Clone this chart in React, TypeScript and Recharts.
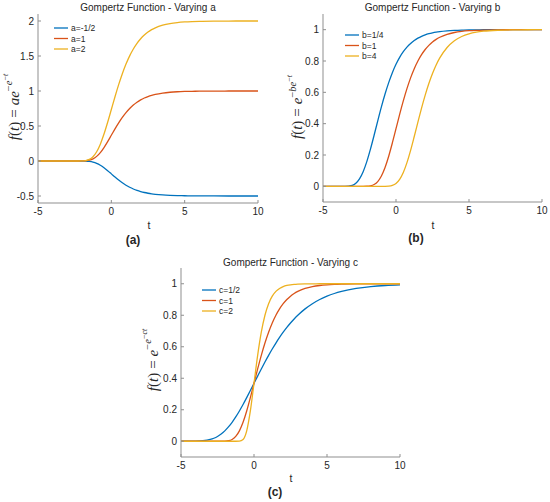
import React from 'react';
import { LineChart, Line, XAxis, YAxis } from 'recharts';

const tValues = [-5, -4.5, -4, -3.5, -3, -2.75, -2.5, -2.25, -2, -1.75, -1.5, -1.25, -1, -0.75, -0.5, -0.25, 0, 0.25, 0.5, 0.75, 1, 1.25, 1.5, 1.75, 2, 2.25, 2.5, 2.75, 3, 3.5, 4, 4.5, 5, 5.5, 6, 7, 8, 9, 10];

// Panel (a): varying a
const aNegHalf = [0, 0, 0, 0, 0, 0, 0, -0.0001, -0.0003, -0.0016, -0.0057, -0.0153, -0.033, -0.0602, -0.0962, -0.1385, -0.184, -0.2295, -0.2726, -0.3118, -0.3461, -0.3755, -0.4, -0.4203, -0.4367, -0.45, -0.4606, -0.4691, -0.4757, -0.4852, -0.491, -0.4945, -0.4967, -0.498, -0.4988, -0.4996, -0.4999, -0.5, -0.5];
const aOne = [0, 0, 0, 0, 0, 0, 0, 0.0001, 0.0006, 0.0032, 0.0113, 0.0305, 0.066, 0.1204, 0.1923, 0.2769, 0.3679, 0.459, 0.5452, 0.6235, 0.6922, 0.7509, 0.8, 0.8405, 0.8734, 0.9, 0.9212, 0.9381, 0.9514, 0.9703, 0.9819, 0.989, 0.9933, 0.9959, 0.9975, 0.9991, 0.9997, 0.9999, 1];
const aTwo = [0, 0, 0, 0, 0, 0, 0, 0.0002, 0.0012, 0.0064, 0.0226, 0.061, 0.132, 0.2408, 0.3846, 0.5538, 0.7358, 0.918, 1.0904, 1.247, 1.3844, 1.5018, 1.6, 1.681, 1.7468, 1.8, 1.8424, 1.8762, 1.9028, 1.9406, 1.9638, 1.978, 1.9866, 1.9918, 1.995, 1.9982, 1.9994, 1.9998, 2];

// Panel (b): varying b
const bQuarter = [0, 0, 0, 0.0003, 0.0066, 0.02, 0.0475, 0.0933, 0.1576, 0.2372, 0.3261, 0.4178, 0.5068, 0.589, 0.6621, 0.7254, 0.7788, 0.8231, 0.8593, 0.8886, 0.9121, 0.9309, 0.9457, 0.9575, 0.9667, 0.974, 0.9797, 0.9842, 0.9877, 0.9925, 0.9954, 0.9972, 0.9983, 0.999, 0.9994, 0.9998, 0.9999, 1, 1];
const bOne = [0, 0, 0, 0, 0, 0, 0, 0.0001, 0.0006, 0.0032, 0.0113, 0.0305, 0.066, 0.1204, 0.1923, 0.2769, 0.3679, 0.459, 0.5452, 0.6235, 0.6922, 0.7509, 0.8, 0.8405, 0.8734, 0.9, 0.9212, 0.9381, 0.9514, 0.9703, 0.9819, 0.989, 0.9933, 0.9959, 0.9975, 0.9991, 0.9997, 0.9999, 1];
const bFour = [0, 0, 0, 0, 0, 0, 0, 0, 0, 0, 0, 0, 0, 0.0002, 0.0014, 0.0059, 0.0183, 0.0444, 0.0884, 0.1512, 0.2296, 0.318, 0.4096, 0.4991, 0.582, 0.6561, 0.7201, 0.7745, 0.8195, 0.8862, 0.9293, 0.9565, 0.9734, 0.9838, 0.9901, 0.9964, 0.9987, 0.9995, 0.9998];

// Panel (c): varying c
const cHalf = [0, 0.0001, 0.0006, 0.0032, 0.0113, 0.0192, 0.0305, 0.046, 0.066, 0.0908, 0.1204, 0.1544, 0.1923, 0.2334, 0.2769, 0.322, 0.3679, 0.4137, 0.459, 0.5029, 0.5452, 0.5855, 0.6235, 0.6591, 0.6922, 0.7228, 0.7509, 0.7766, 0.8, 0.8405, 0.8734, 0.9, 0.9212, 0.9381, 0.9514, 0.9703, 0.9819, 0.989, 0.9933];
const cOne = [0, 0, 0, 0, 0, 0, 0, 0.0001, 0.0006, 0.0032, 0.0113, 0.0305, 0.066, 0.1204, 0.1923, 0.2769, 0.3679, 0.459, 0.5452, 0.6235, 0.6922, 0.7509, 0.8, 0.8405, 0.8734, 0.9, 0.9212, 0.9381, 0.9514, 0.9703, 0.9819, 0.989, 0.9933, 0.9959, 0.9975, 0.9991, 0.9997, 0.9999, 1];
const cTwo = [0, 0, 0, 0, 0, 0, 0, 0, 0, 0, 0, 0, 0.0006, 0.0113, 0.066, 0.1923, 0.3679, 0.5452, 0.6922, 0.8, 0.8734, 0.9212, 0.9514, 0.9703, 0.9819, 0.989, 0.9933, 0.9959, 0.9975, 0.9991, 0.9997, 0.9999, 1, 1, 1, 1, 1, 1, 1];

const xTicks = [-5, 0, 5, 10];
const yTicksA = [-0.5, 0, 0.5, 1, 1.5, 2];
const yTicksBC = [0, 0.2, 0.4, 0.6, 0.8, 1];

const legendA = ['a=-1/2', 'a=1', 'a=2'];
const legendB = ['b=1/4', 'b=1', 'b=4'];
const legendC = ['c=1/2', 'c=1', 'c=2'];

const titles = ['Gompertz Function - Varying a', 'Gompertz Function - Varying b', 'Gompertz Function - Varying c'];
const panelTags = ['(a)', '(b)', '(c)'];

const COLORS = ['#0072BD', '#D95319', '#EDB120'];
const AXIS = '#8f8f8f';
const TXT = '#262626';
const SANS = '"Liberation Sans", Arial, Helvetica, sans-serif';
const SERIF = '"Liberation Serif", "Times New Roman", serif';

function buildRows(s1: number[], s2: number[], s3: number[]) {
  return tValues.map((t, i) => ({ t, s1: s1[i], s2: s2[i], s3: s3[i] }));
}

type PanelProps = {
  left: number; top: number; width: number; height: number;
  margin: { top: number; right: number; bottom: number; left: number };
  rows: any[]; yDomain: [number, number]; yTicks: number[];
};

function Panel({ left, top, width, height, margin, rows, yDomain, yTicks }: PanelProps) {
  const tickStyle = { fill: TXT, fontSize: 10, fontFamily: SANS };
  return (
    <div style={{ position: 'absolute', left, top, width, height }}>
      <LineChart width={width} height={height} data={rows} margin={margin}>
        <XAxis xAxisId="b" dataKey="t" type="number" domain={[-5, 10]} ticks={xTicks} interval={0}
          allowDataOverflow height={30} tickSize={-3} tickMargin={8}
          axisLine={{ stroke: AXIS }} tickLine={{ stroke: AXIS }} tick={tickStyle} />
        <XAxis xAxisId="top" orientation="top" dataKey="t" type="number" domain={[-5, 10]} ticks={xTicks}
          interval={0} allowDataOverflow height={0} tickSize={-3} tick={false}
          axisLine={{ stroke: AXIS }} tickLine={{ stroke: AXIS }} />
        <YAxis yAxisId="l" type="number" domain={yDomain} ticks={yTicks} interval={0} allowDataOverflow
          width={38} tickSize={-3} tickMargin={7}
          axisLine={{ stroke: AXIS }} tickLine={{ stroke: AXIS }} tick={tickStyle} />
        <YAxis yAxisId="r" orientation="right" type="number" domain={yDomain} ticks={yTicks} interval={0}
          allowDataOverflow width={0} tickSize={-3} tick={false}
          axisLine={{ stroke: AXIS }} tickLine={{ stroke: AXIS }} />
        <Line xAxisId="b" yAxisId="l" type="monotone" dataKey="s1" stroke={COLORS[0]} strokeWidth={1.3} dot={false} isAnimationActive={false} />
        <Line xAxisId="b" yAxisId="l" type="monotone" dataKey="s2" stroke={COLORS[1]} strokeWidth={1.3} dot={false} isAnimationActive={false} />
        <Line xAxisId="b" yAxisId="l" type="monotone" dataKey="s3" stroke={COLORS[2]} strokeWidth={1.3} dot={false} isAnimationActive={false} />
      </LineChart>
    </div>
  );
}

function LegendBlock({ x, y, labels }: { x: number; y: number; labels: string[] }) {
  return (
    <g>
      {labels.map((lab, i) => (
        <g key={lab}>
          <line x1={x} x2={x + 14} y1={y + i * 10.5} y2={y + i * 10.5} stroke={COLORS[i]} strokeWidth={1.3} />
          <text x={x + 17} y={y + i * 10.5 + 3} fontSize={8.5} fontFamily={SANS} fill={TXT}>{lab}</text>
        </g>
      ))}
    </g>
  );
}

function YLabel({ x, y, sup, subsup }: { x: number; y: number; sup: string[]; subsup: string }) {
  return (
    <text transform={`translate(${x},${y}) rotate(-90)`} textAnchor="middle" fontFamily={SERIF} fontSize={15} fill={TXT}>
      <tspan fontStyle="italic">f</tspan>
      <tspan>(</tspan>
      <tspan fontStyle="italic">t</tspan>
      <tspan>)</tspan>
      <tspan dx={4}>=</tspan>
      <tspan dx={4} fontStyle="italic">{sup[0]}</tspan>
      <tspan dy={-6.5} fontSize={10.5}>−</tspan>
      <tspan fontSize={10.5} fontStyle="italic">{sup[1]}</tspan>
      <tspan dy={-4} fontSize={8}>−</tspan>
      <tspan fontSize={8} fontStyle="italic">{subsup}</tspan>
    </text>
  );
}

export default function App() {
  const rowsA = buildRows(aNegHalf, aOne, aTwo);
  const rowsB = buildRows(bQuarter, bOne, bFour);
  const rowsC = buildRows(cHalf, cOne, cTwo);
  return (
    <div style={{ position: 'absolute', left: 0, top: 0, width: 550, height: 502, background: '#fff', overflow: 'hidden' }}>
      <Panel left={0} top={0} width={275} height={250} margin={{ top: 14, right: 17, bottom: 17, left: 0 }}
        rows={rowsA} yDomain={[-0.6, 2.1]} yTicks={yTicksA} />
      <Panel left={275} top={0} width={275} height={250} margin={{ top: 14, right: 8, bottom: 18, left: 10 }}
        rows={rowsB} yDomain={[-0.1, 1.1]} yTicks={yTicksBC} />
      <Panel left={140} top={250} width={275} height={250} margin={{ top: 18, right: 15, bottom: 13, left: 3 }}
        rows={rowsC} yDomain={[-0.1, 1.1]} yTicks={yTicksBC} />
      <svg width={550} height={502} style={{ position: 'absolute', left: 0, top: 0, pointerEvents: 'none' }}>
        <g fontFamily={SANS} fill={TXT}>
          <text x={148} y={11} fontSize={10} textAnchor="middle">{titles[0]}</text>
          <text x={432.5} y={11} fontSize={10} textAnchor="middle">{titles[1]}</text>
          <text x={290.5} y={265.5} fontSize={10} textAnchor="middle">{titles[2]}</text>
          <text x={149} y={229} fontSize={10.5} textAnchor="middle">t</text>
          <text x={433} y={229} fontSize={10.5} textAnchor="middle">t</text>
          <text x={291} y={482} fontSize={10.5} textAnchor="middle">t</text>
          <text x={133} y={244} fontSize={12} fontWeight="bold" textAnchor="middle">{panelTags[0]}</text>
          <text x={416} y={242} fontSize={12} fontWeight="bold" textAnchor="middle">{panelTags[1]}</text>
          <text x={275} y={496} fontSize={12} fontWeight="bold" textAnchor="middle">{panelTags[2]}</text>
        </g>
        <LegendBlock x={54} y={28} labels={legendA} />
        <LegendBlock x={345} y={35} labels={legendB} />
        <LegendBlock x={202} y={290} labels={legendC} />
        <YLabel x={18.5} y={107} sup={['ae', 'e']} subsup="t" />
        <YLabel x={302} y={107} sup={['e', 'be']} subsup="t" />
        <YLabel x={157.5} y={360} sup={['e', 'e']} subsup="ct" />
      </svg>
    </div>
  );
}
